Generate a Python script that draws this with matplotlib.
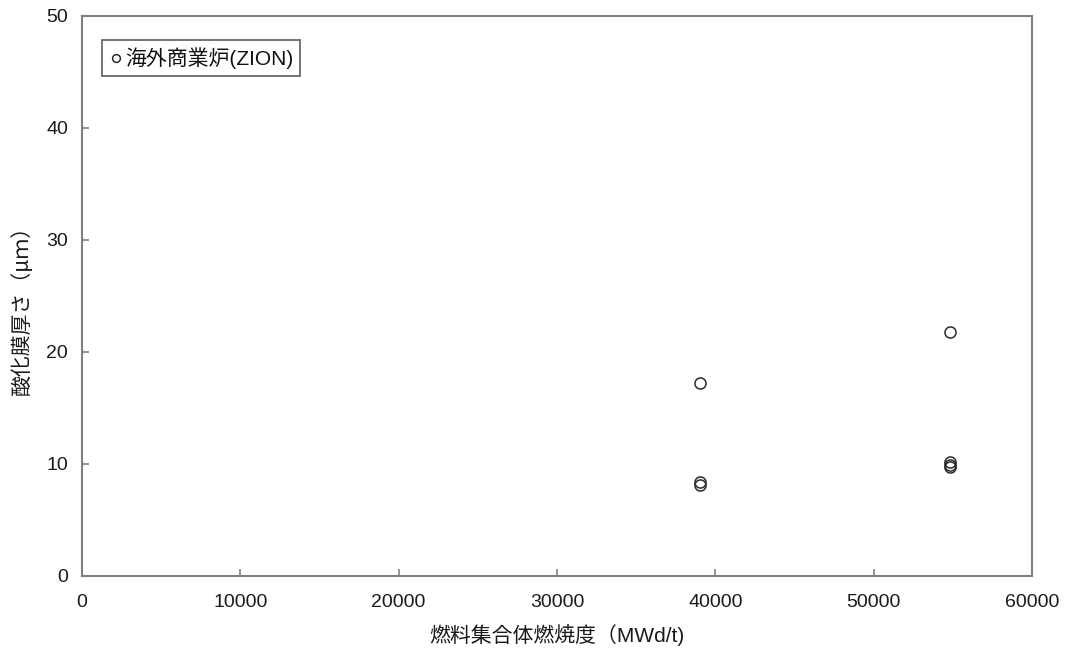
import matplotlib
matplotlib.use("Agg")
import matplotlib.pyplot as plt

plt.rcParams['font.family'] = ['Liberation Sans', 'Noto Sans CJK JP', 'DejaVu Sans']

# Oxide film thickness measured on assemblies from an overseas commercial reactor
burnup = [39000, 39000, 39000, 54800, 54800, 54800, 54800]
thickness = [17.2, 8.1, 8.4, 21.8, 9.7, 9.9, 10.2]
series_label = "海外商業炉(ZION)"

x_ticks = [0, 10000, 20000, 30000, 40000, 50000, 60000]
y_ticks = [0, 10, 20, 30, 40, 50]

fig = plt.figure(figsize=(10.66, 6.51), dpi=100)
ax = fig.add_axes([82 / 1066, 1 - 576 / 651, 950 / 1066, 560 / 651])

ax.plot(burnup, thickness, linestyle='none', marker='o', markersize=8,
        markerfacecolor='none', markeredgecolor='#2a2a2a', markeredgewidth=1.1,
        label=series_label)

ax.set_xlim(0, 60000)
ax.set_ylim(0, 50)
ax.set_xticks(x_ticks)
ax.set_yticks(y_ticks)
ax.set_xticklabels([str(v) for v in x_ticks])
ax.set_yticklabels([str(v) for v in y_ticks])
ax.tick_params(direction='in', length=5, width=1.2, color='#808080',
               labelcolor='#1a1a1a', labelsize=14)
ax.tick_params(axis='x', pad=13)
ax.tick_params(axis='y', pad=10)

for sp in ax.spines.values():
    sp.set_color('#808080')
    sp.set_linewidth(1.5)

ax.set_xlabel("燃料集合体燃焼度（MWd/t)", fontsize=15, color='#1a1a1a')
ax.xaxis.set_label_coords(0.5, -0.085)
ax.set_ylabel("酸化膜厚さ（μｍ）", fontsize=15, color='#1a1a1a',
              family=['Noto Sans CJK JP', 'DejaVu Sans'])
ax.yaxis.set_label_coords(-0.052, 0.484)

leg = ax.legend(loc='upper left', bbox_to_anchor=(20 / 950, 1 - 24 / 560),
                frameon=True, fancybox=False, borderaxespad=0,
                handlelength=0.6, handletextpad=0.15, borderpad=0.35,
                markerscale=0.7, fontsize=15)
leg.get_frame().set_edgecolor('#444444')
leg.get_frame().set_linewidth(1.3)
for t in leg.get_texts():
    t.set_color('#111111')

fig.savefig("out.png", dpi=100)
